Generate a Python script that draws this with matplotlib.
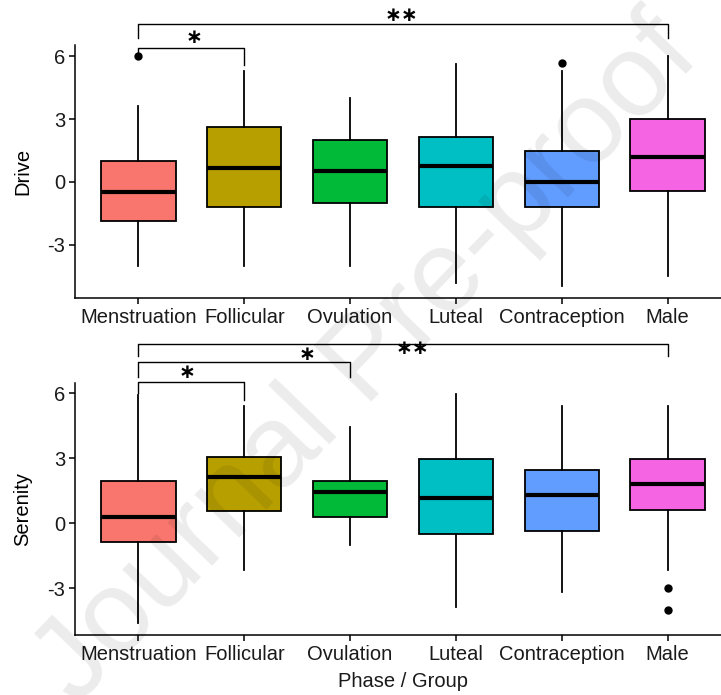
import matplotlib
matplotlib.use("Agg")
import matplotlib.pyplot as plt

plt.rcParams['font.family'] = ['Liberation Sans', 'DejaVu Sans']

groups = ["Menstruation", "Follicular", "Ovulation", "Luteal", "Contraception", "Male"]
colors = ["#F8766D", "#B79F00", "#00BA38", "#00BFC4", "#619CFF", "#F564E3"]

# Drive panel
drive_q1 = [-1.85, -1.2, -1.0, -1.2, -1.2, -0.43]
drive_med = [-0.5, 0.67, 0.5, 0.75, 0.0, 1.18]
drive_q3 = [1.0, 2.61, 2.0, 2.13, 1.5, 3.0]
drive_wlo = [-4.0, -4.0, -4.0, -4.83, -5.0, -4.52]
drive_whi = [3.64, 5.33, 4.0, 5.65, 5.33, 6.0]
drive_out = [[6.0], [], [], [], [5.69], []]

# Serenity panel
ser_q1 = [-0.85, 0.58, 0.31, -0.51, -0.37, 0.63]
ser_med = [0.31, 2.15, 1.46, 1.15, 1.31, 1.81]
ser_q3 = [1.97, 3.05, 1.97, 2.98, 2.46, 2.97]
ser_wlo = [-4.61, -2.16, -1.0, -3.85, -3.17, -2.15]
ser_whi = [5.9, 5.43, 4.46, 5.95, 5.43, 5.43]
ser_out = [[], [], [], [], [], [-3.0, -4.0]]

yticks = [-3, 0, 3, 6]

fig = plt.figure(figsize=(7.21, 6.95), dpi=100)
W, H = 721, 695


def make_axes(top_px, bottom_px):
    left = 75 / W
    right = 731 / W
    return fig.add_axes([left, 1 - bottom_px / H, right - left, (bottom_px - top_px) / H])


def draw_panel(ax, q1, med, q3, wlo, whi, outs, ylim, ylabel):
    stats = []
    for i in range(len(groups)):
        stats.append(dict(q1=q1[i], med=med[i], q3=q3[i], whislo=wlo[i],
                          whishi=whi[i], fliers=outs[i], label=groups[i]))
    bp = ax.bxp(stats, positions=range(len(groups)), widths=0.7,
                patch_artist=True, showcaps=False,
                boxprops=dict(edgecolor='black', linewidth=1.3),
                whiskerprops=dict(color='black', linewidth=1.3),
                medianprops=dict(color='black', linewidth=3.0),
                flierprops=dict(marker='o', markerfacecolor='black',
                                markeredgecolor='black', markersize=5))
    for patch, c in zip(bp['boxes'], colors):
        patch.set_facecolor(c)
    ax.set_xlim(-0.6, 5.6)
    ax.set_ylim(*ylim)
    ax.set_yticks(yticks)
    ax.set_yticklabels([str(t) for t in yticks])
    ax.set_xticks(range(len(groups)))
    ax.set_xticklabels(groups)
    for s in ['top', 'right']:
        ax.spines[s].set_visible(False)
    for s in ['left', 'bottom']:
        ax.spines[s].set_linewidth(1.1)
    ax.tick_params(axis='both', direction='out', length=4, width=1.1,
                   labelsize=14.5, colors='black', labelcolor='#1a1a1a', pad=3)
    ax.set_ylabel(ylabel, fontsize=14.5, labelpad=11)


def bracket(ax, x1, x2, y, yl, yr):
    ax.plot([x1, x1, x2, x2], [yl, y, y, yr], color='black', linewidth=1.0,
            clip_on=False, solid_joinstyle='round')


def star(ax, x, y, s):
    ax.text(x, y, s, ha='center', va='center', fontsize=14.5, fontweight='bold',
            family='DejaVu Sans', clip_on=False)


ax1 = make_axes(45, 298)
draw_panel(ax1, drive_q1, drive_med, drive_q3, drive_wlo, drive_whi, drive_out,
           (-5.55, 6.55), "Drive")
bracket(ax1, 0, 1, 6.41, 6.09, 5.61)
bracket(ax1, 0, 5, 7.57, 6.9, 6.9)
star(ax1, 0.53, 6.9, "\u2217")
star(ax1, 2.49, 7.95, "\u2217\u2217")

ax2 = make_axes(383.3, 635)
draw_panel(ax2, ser_q1, ser_med, ser_q3, ser_wlo, ser_whi, ser_out,
           (-5.15, 6.46), "Serenity")
bracket(ax2, 0, 1, 6.51, 6.0, 5.69)
bracket(ax2, 0, 2, 7.43, 6.75, 6.77)
bracket(ax2, 0, 5, 8.26, 7.72, 7.72)
star(ax2, 0.46, 6.94, "\u2217")
star(ax2, 1.59, 7.81, "\u2217")
star(ax2, 2.59, 8.08, "\u2217\u2217")
ax2.set_xlabel("Phase / Group", fontsize=14.5, labelpad=6, color='#1a1a1a')

# watermark
fig.text(0.51, 0.48, "Journal Pre-proof", rotation=46, fontsize=84,
         color='black', alpha=0.08, ha='center', va='center',
         family='Liberation Sans', zorder=100)

fig.savefig("out.png", dpi=100)
